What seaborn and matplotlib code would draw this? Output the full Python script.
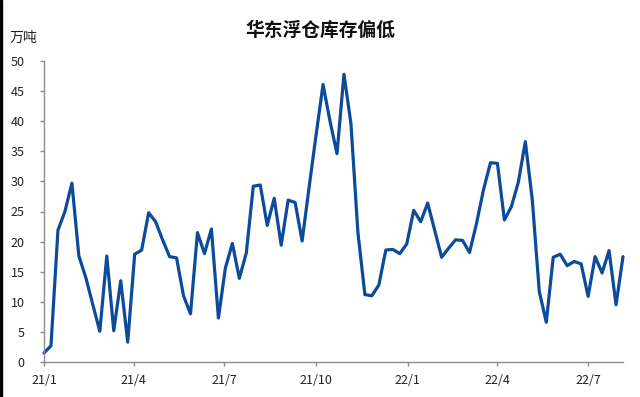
import numpy as np
import pandas as pd
import matplotlib
matplotlib.use("Agg")
import matplotlib.pyplot as plt
import matplotlib.dates as mdates
from matplotlib.ticker import FuncFormatter, MultipleLocator
import seaborn as sns

# ---- data ----
start_date = "2021-01-01"
values = [
    1.5, 2.7, 21.9, 25.0, 29.7, 17.6, 14.0, 9.5, 5.1, 17.6,
    5.2, 13.5, 3.3, 17.9, 18.6, 24.8, 23.3, 20.3, 17.5, 17.3,
    11.0, 8.0, 21.5, 18.0, 22.1, 7.3, 15.6, 19.7, 13.9, 18.1,
    29.2, 29.4, 22.7, 27.2, 19.4, 26.9, 26.5, 20.1, 29.0, 37.7,
    46.1, 40.0, 34.6, 47.8, 39.6, 21.5, 11.2, 11.0, 12.8, 18.6,
    18.7, 18.0, 19.6, 25.2, 23.3, 26.4, 21.9, 17.4, 18.9, 20.3,
    20.2, 18.2, 23.0, 28.6, 33.1, 33.0, 23.6, 25.8, 29.9, 36.6,
    26.9, 11.7, 6.6, 17.4, 17.9, 16.0, 16.7, 16.3, 10.9, 17.5,
    14.8, 18.5, 9.5, 17.5,
]
tick_dates = ["2021-01-01", "2021-04-01", "2021-07-01", "2021-10-01",
              "2022-01-01", "2022-04-01", "2022-07-01"]
title = "华东浮仓库存偏低"
unit = "万吨"

dates = pd.date_range(start_date, periods=len(values), freq="7D")
df = pd.DataFrame({"date": dates, "value": values})

sns.set_theme(style="white")
plt.rcParams["font.family"] = ["Noto Sans CJK SC", "DejaVu Sans"]

fig = plt.figure(figsize=(6.4, 3.97), dpi=100)
ax = fig.add_axes([44/640, 35/397, (623-44)/640, (362-61)/397])

sns.lineplot(data=df, x="date", y="value", ax=ax, color="#0c4a9a", linewidth=2.3)
for ln in ax.lines:
    ln.set_clip_on(False)

ax.set_ylim(0, 50)
ax.yaxis.set_major_locator(MultipleLocator(5))
ax.set_xlim(dates[0], dates[-1])
ax.set_xticks(pd.to_datetime(tick_dates))
ax.xaxis.set_major_formatter(FuncFormatter(
    lambda v, p: f"{mdates.num2date(v).year % 100}/{mdates.num2date(v).month}"))
ax.set_xlabel("")
ax.set_ylabel("")

for s in ["top", "right"]:
    ax.spines[s].set_visible(False)
for s in ["left", "bottom"]:
    ax.spines[s].set_color("#8c8c8c")
    ax.spines[s].set_linewidth(1.0)

ax.tick_params(axis="y", which="major", direction="out", length=3, width=1,
               color="#8c8c8c", labelsize=9, labelcolor="#222222", pad=11, left=True)
ax.tick_params(axis="x", which="major", direction="out", length=3, width=1,
               color="#8c8c8c", labelsize=9, labelcolor="#222222", pad=6, bottom=True)

fig.text(320/640, 1 - 30/397, title, ha="center", va="center",
         fontsize=13.5, fontweight="bold", color="#111111")
fig.text(10/640, 1 - 38/397, unit, ha="left", va="center",
         fontsize=10, color="#222222")

fig.patches.append(plt.Rectangle((0, 0), 2/640, 1, transform=fig.transFigure,
                                 color="black", zorder=0))

fig.savefig("out.png", dpi=100)
